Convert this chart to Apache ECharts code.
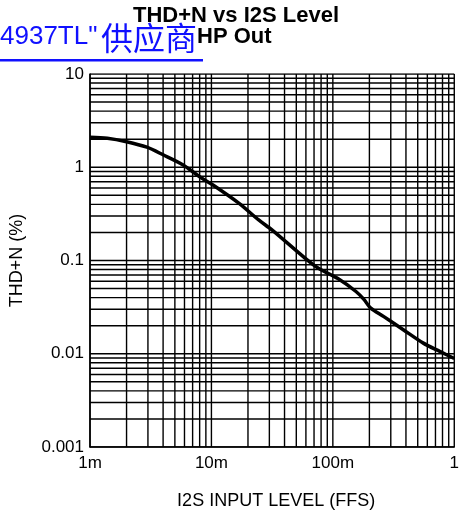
<!DOCTYPE html>
<html><head><meta charset="utf-8">
<script src="https://cdn.jsdelivr.net/npm/echarts@6/dist/echarts.min.js"></script>
<style>html,body{margin:0;padding:0;background:#fff}#c{width:462px;height:518px}</style>
</head><body><div id="c"></div>
<script>
// Curve data: I2S input level (FFS) vs THD+N (%)
const levelFFS = [0.001, 0.00139, 0.002, 0.00294, 0.004, 0.00585, 0.008, 0.0103, 0.0169, 0.0245, 0.0315, 0.059, 0.0755, 0.110, 0.155, 0.181, 0.204, 0.263, 0.383, 0.556, 0.760, 1.0];
const thdN     = [2.1,   2.05,    1.88,  1.64,    1.36,  1.06,    0.79,  0.645,  0.41,   0.272,  0.213,  0.106, 0.083,  0.064, 0.0465, 0.038, 0.031, 0.025, 0.018, 0.013, 0.0106, 0.0089];
const xTickLabels = ['1m', '10m', '100m', '1'];
const yTickLabels = ['0.001', '0.01', '0.1', '1', '10'];
const xDecades = [0.001, 0.01, 0.1];
const yDecades = [0.001, 0.01, 0.1, 1];
const X_MIN = 0.001, X_MAX = 1, Y_MIN = 0.001, Y_MAX = 10;

function logGrid(decades) {
  const out = [];
  decades.forEach(d => { for (let k = 1; k <= 9; k++) out.push(+(d * k).toPrecision(3)); });
  out.push(+(decades[decades.length - 1] * 10).toPrecision(3));
  return out;
}
const gridStyle = { color: '#000', width: 1.4, type: 'solid' };
const gridSeries = [];
logGrid(xDecades).forEach(v => gridSeries.push({
  type: 'line', silent: true, symbol: 'none', animation: false, z: 1,
  lineStyle: gridStyle, data: [[v, Y_MIN], [v, Y_MAX]]
}));
logGrid(yDecades).forEach(v => gridSeries.push({
  type: 'line', silent: true, symbol: 'none', animation: false, z: 1,
  lineStyle: gridStyle, data: [[X_MIN, v], [X_MAX, v]]
}));

const chart = echarts.init(document.getElementById('c'), null, { renderer: 'canvas' });
const lblFont = { fontFamily: 'Liberation Sans, Arial, sans-serif', fontSize: 17, color: '#000' };
const titleFont = 'bold 22px "Liberation Sans", Arial, sans-serif';
chart.setOption({
  animation: false,
  backgroundColor: '#fff',
  grid: { left: 89, right: 2, top: 74, bottom: 71, containLabel: false },
  graphic: [
    { type: 'text', left: 133, top: 5, style: { text: 'THD+N vs I2S Level', font: titleFont, fill: '#000' } },
    { type: 'text', left: 197, top: 26, style: { text: 'HP Out', font: titleFont, fill: '#000' } },
    { type: 'text', left: 0, top: 24, style: { text: '4937TL"', font: '26px "Liberation Sans", Arial, sans-serif', fill: '#1010ff' } },
    { type: 'text', left: 101, top: 22, style: { text: '供应商', font: '32px "Noto Sans CJK SC", sans-serif', fill: '#1010ff' } },
    { type: 'rect', shape: { x: 0, y: 59, width: 203, height: 2.5 }, style: { fill: '#1010ff' } }
  ],
  xAxis: {
    type: 'log', logBase: 10, min: X_MIN, max: X_MAX,
    name: 'I2S INPUT LEVEL (FFS)', nameLocation: 'middle', nameGap: 45,
    nameTextStyle: { fontFamily: 'Liberation Sans, Arial, sans-serif', fontSize: 18, color: '#000', padding: [0, 0, 0, 8] },
    axisLine: { show: true, lineStyle: { color: '#000', width: 1.5 } },
    axisTick: { show: false },
    splitLine: { show: false },
    axisLabel: Object.assign({ margin: 8, showMaxLabel: true, showMinLabel: true,
      formatter: v => xTickLabels[Math.round(Math.log10(v) + 3)] }, lblFont)
  },
  yAxis: {
    type: 'log', logBase: 10, min: Y_MIN, max: Y_MAX,
    name: 'THD+N (%)', nameLocation: 'middle', nameGap: 64,
    nameTextStyle: { fontFamily: 'Liberation Sans, Arial, sans-serif', fontSize: 18, color: '#000' },
    axisLine: { show: true, lineStyle: { color: '#000', width: 1.5 } },
    axisTick: { show: false },
    splitLine: { show: false },
    axisLabel: Object.assign({ margin: 6,
      formatter: v => yTickLabels[Math.round(Math.log10(v) + 3)] }, lblFont)
  },
  series: gridSeries.concat([
    {
      type: 'line', smooth: 0.3, showSymbol: false, symbol: 'none', silent: true,
      lineStyle: { color: '#000', width: 3.5 },
      data: levelFFS.map((x, i) => [x, thdN[i]]), z: 5
    }
  ])
});
</script></body></html>
